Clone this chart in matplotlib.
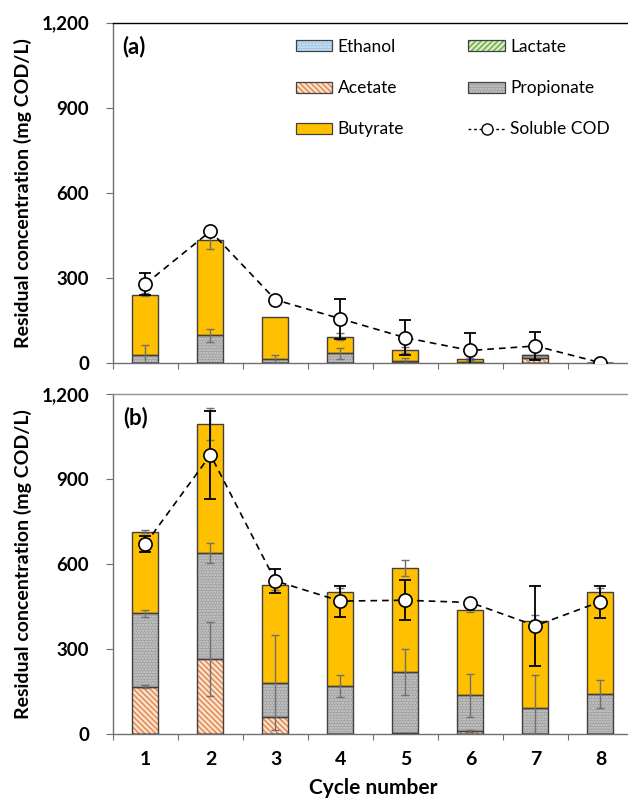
import numpy as np
import matplotlib
matplotlib.use("Agg")
import matplotlib.pyplot as plt
from matplotlib.patches import Patch
from matplotlib.lines import Line2D

plt.rcParams['font.family'] = ['Lato', 'DejaVu Sans']
plt.rcParams['hatch.linewidth'] = 1.1

cycles = [1, 2, 3, 4, 5, 6, 7, 8]
cycle_labels = ['1', '2', '3', '4', '5', '6', '7', '8']

# panel (a)
a_ethanol = [0, 0, 0, 0, 0, 0, 0, 0]
a_lactate = [0, 0, 0, 0, 0, 0, 0, 0]
a_acetate = [0, 0, 0, 0, 0, 0, 15, 0]
a_propionate = [28, 96, 14, 33, 7, 3, 12, 0]
a_butyrate = [212, 338, 148, 59, 38, 11, 0, 0]
a_acetate_err = [0, 0, 0, 0, 0, 0, 0, 0]
a_propionate_err = [35, 22, 12, 20, 8, 3, 0, 0]
a_butyrate_err = [5, 33, 0, 12, 10, 3, 0, 0]
a_cod = [278, 464, 222, 155, 88, 43, 59, 0]
a_cod_err = [39, 0, 0, 70, 62, 62, 51, 0]

# panel (b)
b_ethanol = [0, 0, 0, 0, 0, 0, 0, 0]
b_lactate = [0, 0, 0, 0, 0, 0, 0, 0]
b_acetate = [167, 264, 60, 0, 5, 10, 0, 0]
b_propionate = [259, 374, 121, 169, 214, 126, 91, 141]
b_butyrate = [288, 457, 346, 332, 366, 302, 309, 360]
b_acetate_err = [5, 130, 0, 0, 0, 3, 0, 0]
b_propionate_err = [12, 36, 167, 38, 80, 75, 118, 49]
b_butyrate_err = [5, 57, 18, 15, 29, 8, 20, 15]
b_cod = [671, 985, 540, 469, 472, 464, 382, 467]
b_cod_err = [27, 156, 41, 55, 70, 0, 141, 57]

# styles: (face, hatch, hatch colour)
styles = {
    'Ethanol': ('#9dc3e6', '......', '#deebf7'),
    'Lactate': ('#d9ecc9', '//////', '#70ad47'),
    'Acetate': ('#fbe3d0', '\\\\\\\\\\\\', '#e2894f'),
    'Propionate': ('#a0a0a0', '......', '#d0d0d0'),
    'Butyrate': ('#ffc000', None, '#ffc000'),
}
outline = '#404040'
bar_w = 0.4


def stacked_panel(ax, parts, errs, cod, cod_err):
    x = np.array(cycles)
    bottom = np.zeros(len(x))
    for name, vals in parts:
        face, hatch, hcol = styles[name]
        vals = np.array(vals, dtype=float)
        ax.bar(x, vals, bar_w, bottom=bottom, color=face, hatch=hatch,
               edgecolor=hcol, linewidth=0, zorder=2)
        ax.bar(x, vals, bar_w, bottom=bottom, facecolor='none',
               edgecolor=outline, linewidth=1.0, zorder=3)
        if name in errs:
            e = np.array(errs[name], dtype=float)
            m = e > 0
            ax.errorbar(x[m], (bottom + vals)[m], yerr=e[m], fmt='none',
                        ecolor='#707070', elinewidth=1.0, capsize=3,
                        capthick=1.0, zorder=4)
        bottom = bottom + vals
    c = np.array(cod, dtype=float)
    ce = np.array(cod_err, dtype=float)
    m = ce > 0
    ax.errorbar(x[m], c[m], yerr=ce[m], fmt='none', ecolor='black',
                elinewidth=1.3, capsize=4, capthick=1.3, zorder=5)
    ax.plot(x, c, linestyle=(0, (4, 3)), color='black', linewidth=1.2,
            marker='o', markersize=9.5, markerfacecolor='white',
            markeredgecolor='black', markeredgewidth=1.2, zorder=6)


def style_axes(ax, top_color, show_labels):
    ax.set_xlim(0.5, 8.5)
    ax.set_ylim(0, 1200)
    ax.set_yticks([0, 300, 600, 900, 1200])
    ax.set_yticklabels(['0', '300', '600', '900', '1,200'],
                       fontsize=13.5, fontweight='bold')
    ax.set_xticks(np.arange(0.5, 9.0, 1.0))
    ax.set_xticklabels([])
    ax.set_xticks(cycles, minor=True)
    if show_labels:
        ax.set_xticklabels(cycle_labels, minor=True, fontsize=14,
                           fontweight='bold')
    else:
        ax.set_xticklabels([], minor=True)
    ax.tick_params(axis='x', which='major', direction='out', length=4,
                   color='#707070')
    ax.tick_params(axis='x', which='minor', length=0, pad=12)
    ax.tick_params(axis='y', direction='out', length=5, color='#707070',
                   pad=12)
    ax.spines['right'].set_visible(False)
    ax.spines['left'].set_color('#707070')
    ax.spines['bottom'].set_color('#707070')
    ax.spines['top'].set_color(top_color)
    for s in ax.spines.values():
        s.set_linewidth(1.0)


fig = plt.figure(figsize=(6.28, 7.99), dpi=100)
ax_a = fig.add_axes([0.1799, 0.5461, 0.828, 0.4255])
ax_b = fig.add_axes([0.1799, 0.0814, 0.828, 0.4255])

stacked_panel(ax_a,
              [('Ethanol', a_ethanol), ('Lactate', a_lactate),
               ('Acetate', a_acetate), ('Propionate', a_propionate),
               ('Butyrate', a_butyrate)],
              {'Acetate': a_acetate_err, 'Propionate': a_propionate_err,
               'Butyrate': a_butyrate_err},
              a_cod, a_cod_err)
stacked_panel(ax_b,
              [('Ethanol', b_ethanol), ('Lactate', b_lactate),
               ('Acetate', b_acetate), ('Propionate', b_propionate),
               ('Butyrate', b_butyrate)],
              {'Acetate': b_acetate_err, 'Propionate': b_propionate_err,
               'Butyrate': b_butyrate_err},
              b_cod, b_cod_err)

style_axes(ax_a, '#000000', False)
style_axes(ax_b, '#909090', True)

ax_a.text(0.018, 0.93, '(a)', transform=ax_a.transAxes, fontsize=16,
          fontweight='bold', va='center', ha='left')
ax_b.text(0.02, 0.93, '(b)', transform=ax_b.transAxes, fontsize=16,
          fontweight='bold', va='center', ha='left')

ax_b.text(0.5, -0.159, 'Cycle number', transform=ax_b.transAxes,
          fontsize=15, fontweight='bold', ha='center', va='center')

for yc in (0.7588, 0.2941):
    fig.text(0.0366, yc, 'Residual concentration (mg COD/L)', rotation=90,
             fontsize=14, fontweight='bold', ha='center', va='center')


def legend_patch(name):
    face, hatch, hcol = styles[name]
    fill = Patch(facecolor=face, hatch=hatch, edgecolor=hcol, linewidth=0)
    edge = Patch(facecolor='none', edgecolor=outline, linewidth=0.9)
    return (fill, edge)


handles = [legend_patch('Ethanol'), legend_patch('Acetate'),
           legend_patch('Butyrate'), legend_patch('Lactate'),
           legend_patch('Propionate'),
           Line2D([], [], linestyle=(0, (2, 2)), color='black', linewidth=1.0,
                  marker='o', markersize=8, markerfacecolor='white',
                  markeredgecolor='black')]
labels = ['Ethanol', 'Acetate', 'Butyrate', 'Lactate', 'Propionate',
          'Soluble COD']
leg = ax_a.legend(handles=handles, labels=labels, ncol=2, loc='upper left',
                  bbox_to_anchor=(296 / 628, 1 - 39 / 799),
                  bbox_transform=fig.transFigure, frameon=False,
                  fontsize=12.5, handlelength=2.1, handleheight=0.6,
                  handletextpad=0.3, labelspacing=1.45, columnspacing=3.7,
                  borderpad=0, borderaxespad=0)

fig.savefig('out.png', dpi=100)
